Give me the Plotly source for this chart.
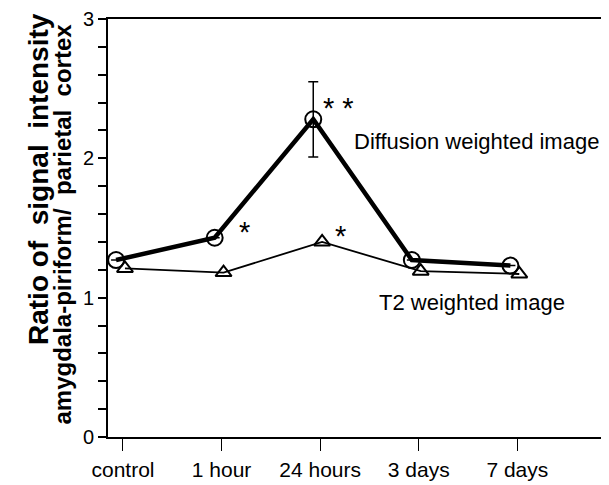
import plotly.graph_objects as go

categories = ["control", "1 hour", "24 hours", "3 days", "7 days"]
diffusion = [1.27, 1.43, 2.28, 1.27, 1.23]
diffusion_err = [0, 0, 0.27, 0, 0]
t2 = [1.21, 1.18, 1.40, 1.19, 1.17]
y_ticks = [0, 1, 2, 3]

idx = list(range(len(categories)))
x_diff = [i - 0.07 for i in idx]
x_t2 = [i + 0.02 for i in idx]

fig = go.Figure()
fig.add_trace(go.Scatter(
    x=x_t2, y=t2, mode="lines+markers",
    line=dict(color="black", width=1.8),
    marker=dict(symbol="triangle-up-open", size=14, color="black", line=dict(width=2)),
    showlegend=False))
fig.add_trace(go.Scatter(
    x=x_diff, y=diffusion, mode="lines+markers",
    line=dict(color="black", width=4.5),
    marker=dict(symbol="circle-open", size=16, color="black", line=dict(width=2)),
    error_y=dict(type="data", array=diffusion_err, visible=True, color="black", thickness=1.5, width=5),
    showlegend=False))

font = "Arial, Liberation Sans, sans-serif"
stars = [
    dict(x=2.19, y=2.363, text="* *"),
    dict(x=1.23, y=1.473, text="*"),
    dict(x=2.21, y=1.444, text="*"),
]
for a in stars:
    fig.add_annotation(x=a["x"], y=a["y"], text=a["text"], showarrow=False,
                       font=dict(family=font, size=29, color="black"))

fig.add_annotation(x=2.32, y=2.118, text="Diffusion weighted image", showarrow=False,
                   xanchor="left", yanchor="middle",
                   font=dict(family=font, size=22, color="black"))
fig.add_annotation(x=2.58, y=0.965, text="T2 weighted image", showarrow=False,
                   xanchor="left", yanchor="middle",
                   font=dict(family=font, size=22, color="black"))

# two-line y-axis title, top-aligned
fig.add_annotation(xref="paper", yref="paper", x=0, y=1.0, xanchor="center", yanchor="top",
                   xshift=-70, yshift=8, textangle=-90, showarrow=False,
                   text="<b>Ratio of\u00a0 signal\u00a0 intensity</b>",
                   font=dict(family=font, size=28, color="black"))
fig.add_annotation(xref="paper", yref="paper", x=0, y=1.0, xanchor="center", yanchor="top",
                   xshift=-46, yshift=-3, textangle=-90, showarrow=False,
                   text="<b>amygdala-piriform/\u00a0 parietal\u00a0 cortex</b>",
                   font=dict(family=font, size=24, color="black"))

# page body adds an 8px offset, so the figure is sized to fit the window
fig.update_layout(
    width=601, height=477,
    margin=dict(l=100, r=0, t=11, b=48),
    paper_bgcolor="white", plot_bgcolor="white",
    font=dict(family=font, color="black"),
)
fig.update_xaxes(
    range=[-0.152, 4.93], tickvals=idx, ticktext=categories,
    showline=True, linecolor="black", linewidth=2, mirror=True,
    ticks="outside", ticklen=12, tickwidth=1, tickcolor="black",
    ticklabelstandoff=1,
    showgrid=False, zeroline=False, tickfont=dict(size=21, family=font))
fig.update_yaxes(
    range=[0, 3], tickvals=y_ticks,
    showline=True, linecolor="black", linewidth=2,
    ticks="outside", ticklen=8, tickwidth=2, tickcolor="black",
    minor=dict(dtick=0.2, ticks="outside", ticklen=8, tickwidth=1.5, tickcolor="black", showgrid=False),
    showgrid=False, zeroline=False, tickfont=dict(size=20, family=font))

fig.write_html("out.html")
